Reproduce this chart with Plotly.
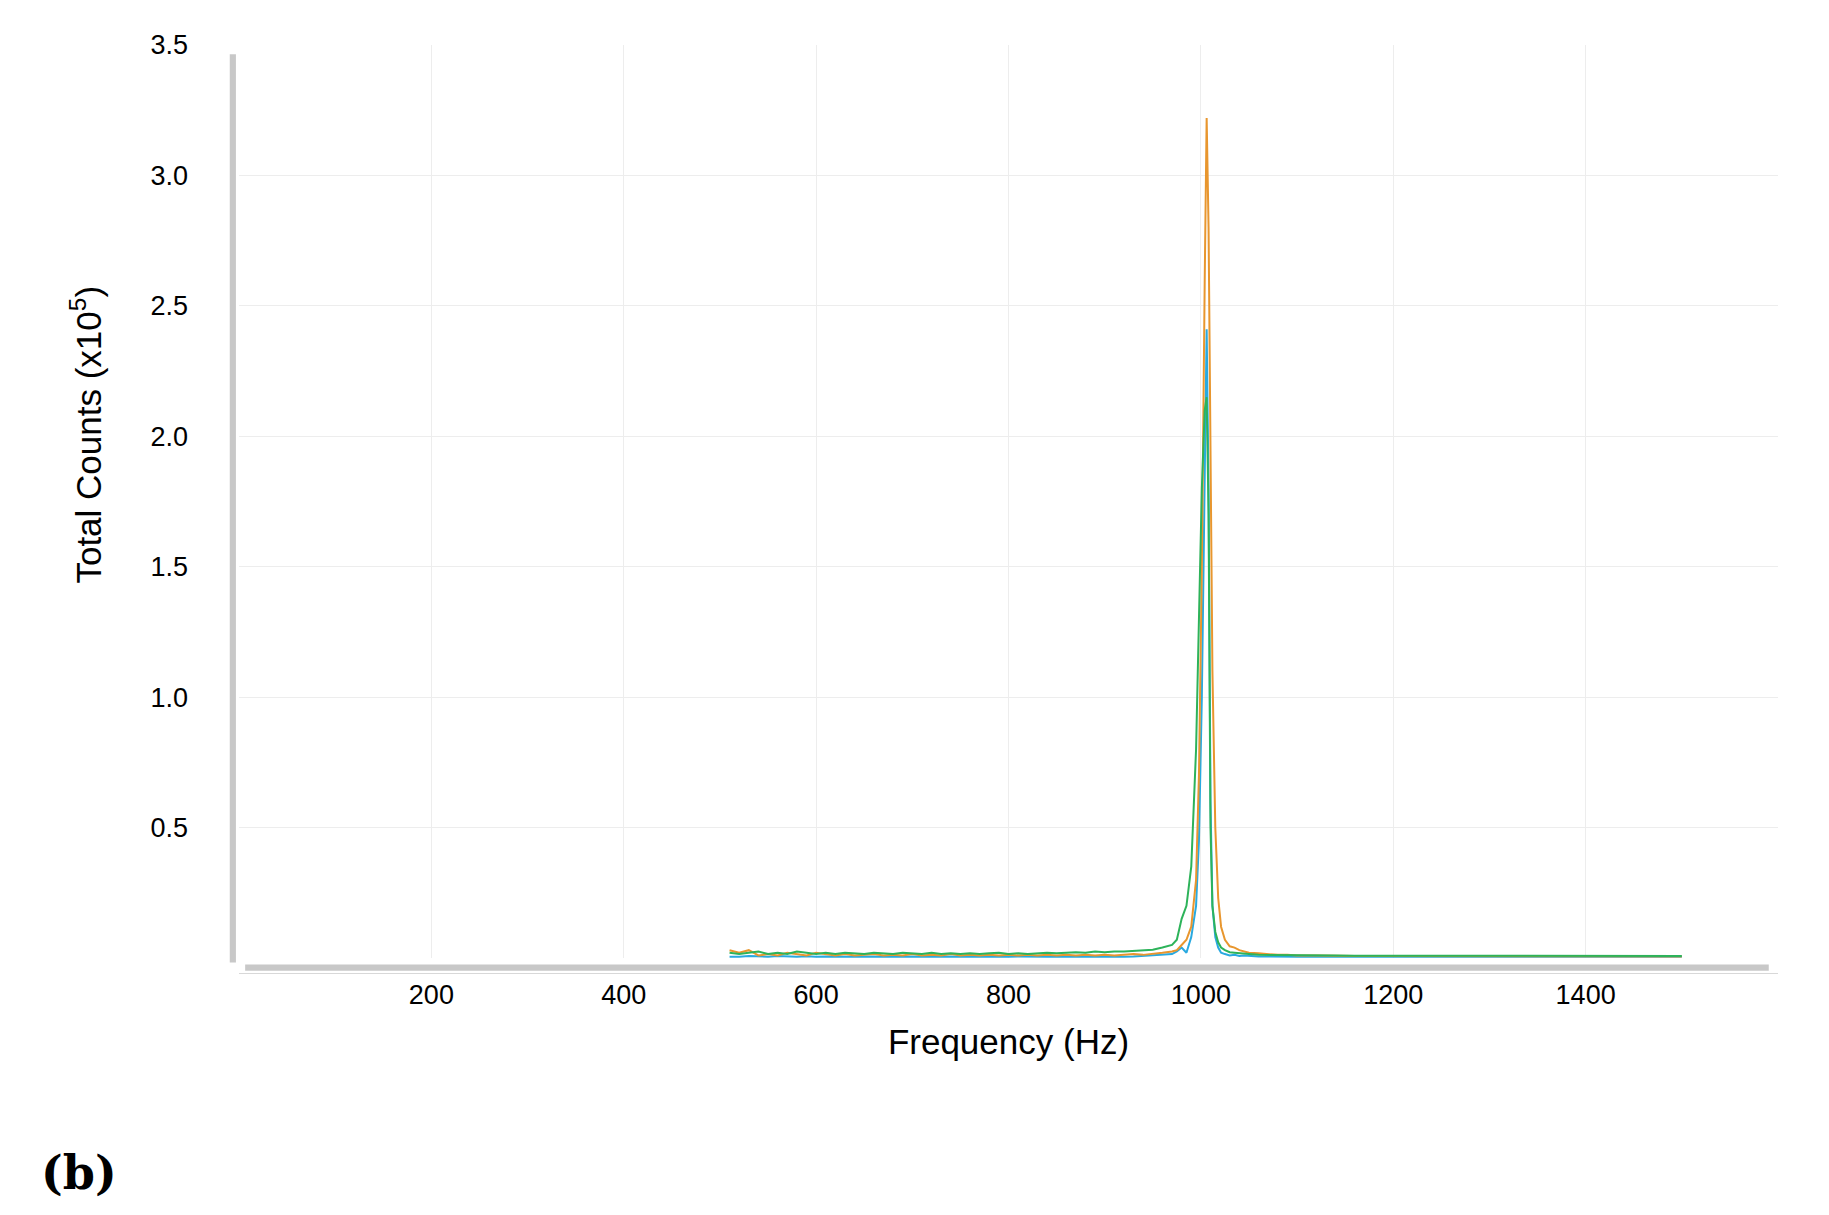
import plotly.graph_objects as go

freq = [510, 520, 530, 540, 550, 560, 570, 580, 590, 600, 610, 620, 630, 640, 650, 660, 670, 680, 690, 700,
        710, 720, 730, 740, 750, 760, 770, 780, 790, 800, 810, 820, 830, 840, 850, 860, 870, 880, 890, 900,
        910, 920, 930, 940, 950, 960, 970, 975, 980, 985, 990, 995, 998, 1001, 1004, 1006, 1008, 1010, 1012,
        1015, 1018, 1021, 1025, 1030, 1035, 1040, 1045, 1050, 1060, 1070, 1080, 1090, 1100, 1120, 1140, 1160,
        1180, 1200, 1220, 1240, 1260, 1280, 1300, 1320, 1340, 1360, 1380, 1400, 1420, 1440, 1460, 1480, 1500]

orange = [0.030, 0.020, 0.030, 0.010, 0.015, 0.010, 0.020, 0.015, 0.010, 0.020, 0.015, 0.010, 0.015, 0.010, 0.012, 0.015, 0.010, 0.012, 0.010, 0.015,
          0.010, 0.012, 0.010, 0.015, 0.010, 0.012, 0.010, 0.012, 0.010, 0.012, 0.010, 0.012, 0.010, 0.012, 0.010, 0.012, 0.010, 0.012, 0.010, 0.012,
          0.010, 0.012, 0.015, 0.012, 0.015, 0.020, 0.025, 0.030, 0.050, 0.070, 0.120, 0.300, 0.700, 1.500, 2.600, 3.220, 2.800, 1.900, 1.100,
          0.500, 0.230, 0.120, 0.070, 0.045, 0.040, 0.030, 0.025, 0.020, 0.018, 0.015, 0.012, 0.012, 0.010, 0.010, 0.008, 0.008,
          0.008, 0.008, 0.007, 0.007, 0.007, 0.007, 0.007, 0.006, 0.006, 0.006, 0.006, 0.006, 0.006, 0.006, 0.006, 0.006, 0.006]

blue = [0.005, 0.005, 0.008, 0.006, 0.005, 0.008, 0.006, 0.005, 0.007, 0.005, 0.006, 0.005, 0.006, 0.005, 0.006, 0.005, 0.006, 0.005, 0.006, 0.005,
        0.006, 0.005, 0.006, 0.005, 0.006, 0.005, 0.006, 0.005, 0.006, 0.005, 0.006, 0.005, 0.006, 0.005, 0.006, 0.005, 0.006, 0.005, 0.006, 0.005,
        0.006, 0.005, 0.006, 0.008, 0.010, 0.012, 0.015, 0.025, 0.040, 0.020, 0.080, 0.200, 0.450, 1.000, 1.900, 2.410, 1.800, 0.600, 0.200,
        0.080, 0.040, 0.020, 0.015, 0.010, 0.012, 0.008, 0.010, 0.008, 0.006, 0.006, 0.005, 0.005, 0.005, 0.005, 0.005, 0.005,
        0.005, 0.005, 0.005, 0.005, 0.005, 0.005, 0.005, 0.005, 0.005, 0.005, 0.005, 0.005, 0.005, 0.005, 0.005, 0.005, 0.005]

green = [0.020, 0.015, 0.020, 0.025, 0.015, 0.020, 0.015, 0.025, 0.020, 0.015, 0.020, 0.015, 0.020, 0.018, 0.015, 0.020, 0.018, 0.015, 0.020, 0.018,
         0.015, 0.020, 0.015, 0.018, 0.015, 0.018, 0.015, 0.018, 0.020, 0.015, 0.018, 0.015, 0.018, 0.020, 0.018, 0.020, 0.022, 0.020, 0.025, 0.022,
         0.025, 0.025, 0.028, 0.030, 0.032, 0.040, 0.050, 0.070, 0.150, 0.200, 0.350, 0.800, 1.300, 1.800, 2.100, 2.150, 1.700, 0.500, 0.200,
         0.100, 0.060, 0.040, 0.030, 0.022, 0.020, 0.018, 0.015, 0.015, 0.012, 0.012, 0.012, 0.010, 0.010, 0.010, 0.010, 0.009,
         0.009, 0.009, 0.009, 0.008, 0.008, 0.008, 0.008, 0.008, 0.008, 0.008, 0.008, 0.008, 0.008, 0.008, 0.008, 0.008, 0.008]

x_ticks = [200, 400, 600, 800, 1000, 1200, 1400]
y_ticks = [0.5, 1.0, 1.5, 2.0, 2.5, 3.0, 3.5]

fig = go.Figure()
fig.add_trace(go.Scatter(x=freq, y=blue, mode="lines", line=dict(color="#29A9E0", width=2), showlegend=False))
fig.add_trace(go.Scatter(x=freq, y=orange, mode="lines", line=dict(color="#E8962E", width=2), showlegend=False))
fig.add_trace(go.Scatter(x=freq, y=green, mode="lines", line=dict(color="#2DB35A", width=2), showlegend=False))

fig.update_layout(
    width=1829, height=1215,
    paper_bgcolor="white", plot_bgcolor="white",
    margin=dict(l=231, r=59, t=37, b=265, autoexpand=False),
    font=dict(family="Liberation Sans, Arial, sans-serif", color="black"),
    xaxis=dict(range=[0, 1600], tickvals=x_ticks, ticktext=[str(v) for v in x_ticks],
               showgrid=True, gridcolor="#EDEDED", zeroline=False, showline=False,
               tickfont=dict(size=27), ticks="", ticklabelstandoff=18, automargin=False,
               title=dict(text="Frequency (Hz)", font=dict(size=35), standoff=20)),
    yaxis=dict(range=[0, 3.5], tickvals=y_ticks, ticktext=[f"{v:.1f}" for v in y_ticks],
               showgrid=True, gridcolor="#EDEDED", zeroline=False, showline=False,
               tickfont=dict(size=27), ticks="", ticklabelstandoff=50, automargin=False),
    shapes=[
        dict(type="rect", xref="paper", yref="paper", x0=-0.006, x1=-0.002, y0=-0.005, y1=0.99,
             fillcolor="#C8C8C8", line=dict(width=0)),
        dict(type="rect", xref="paper", yref="paper", x0=0.004, x1=0.994, y0=-0.014, y1=-0.007,
             fillcolor="#C8C8C8", line=dict(width=0)),
        dict(type="line", xref="paper", yref="paper", x0=0, x1=1, y0=-0.017, y1=-0.017,
             line=dict(color="#D8D8D8", width=1)),
    ],
    annotations=[
        dict(text="Total Counts (x10<sup>5</sup>)", xref="paper", yref="paper", x=-0.0996, y=0.573,
             textangle=-90, xanchor="center", yanchor="middle", showarrow=False,
             font=dict(size=35)),
        dict(text="<b>(b)</b>", xref="paper", yref="paper", x=-0.104, y=-0.235,
             xanchor="center", yanchor="middle", showarrow=False,
             font=dict(family="DejaVu Serif, serif", size=46)),
    ],
)

fig.write_html("out.html")
